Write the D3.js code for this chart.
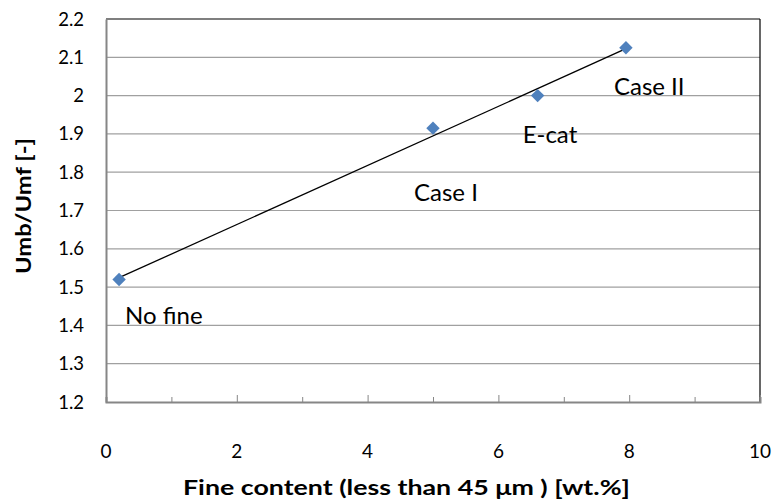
<!DOCTYPE html>
<html><head><meta charset="utf-8">
<script src="https://cdn.jsdelivr.net/npm/d3@7"></script>
<style>body{margin:0;background:#fff}svg{display:block;font-family:Lato,"Open Sans",sans-serif}</style>
</head><body><svg id="c" width="775" height="501"></svg>
<script>
const names = ["No fine","Case I","E-cat","Case II"];
const xVals = [0.2, 5.0, 6.6, 7.95];
const yVals = [1.52, 1.915, 2.0, 2.125];
const xTicks = [0,2,4,6,8,10];
const yTicks = [1.2,1.3,1.4,1.5,1.6,1.7,1.8,1.9,2.0,2.1,2.2];
const yTickLabels = ["1.2","1.3","1.4","1.5","1.6","1.7","1.8","1.9","2","2.1","2.2"];
const labelOffsets = [[6,45],[-19,73],[-15,47],[-12,47]];

const svg = d3.select("#c");
const L=106,R=760,T=19,B=402;
const x = d3.scaleLinear().domain([0,10]).range([L,R]);
const y = d3.scaleLinear().domain([1.2,2.2]).range([B,T]);

// gridlines
svg.append("g").selectAll("line").data(yTicks.slice(1,-1)).join("line")
  .attr("x1",L).attr("x2",R).attr("y1",d=>y(d)).attr("y2",d=>y(d))
  .attr("stroke","#a0a0a0").attr("stroke-width",1.2);
// top and right border
svg.append("line").attr("x1",L).attr("x2",R).attr("y1",T).attr("y2",T).attr("stroke","#000").attr("stroke-width",1.2);
svg.append("line").attr("x1",R).attr("x2",R).attr("y1",T).attr("y2",B).attr("stroke","#000").attr("stroke-width",1.2);

// x axis
const xa = svg.append("g").attr("transform",`translate(0,${B})`)
  .call(d3.axisBottom(x).tickValues(d3.range(0,11,1)).tickSize(-5).tickFormat(""));
xa.select(".domain").attr("stroke","#868686").attr("stroke-width",2);
xa.selectAll(".tick line").attr("stroke","#868686").attr("y2",d=>d%2===0?-7:-5);
svg.append("g").selectAll("text").data(xTicks).join("text")
  .attr("x",d=>x(d)).attr("y",458).attr("text-anchor","middle")
  .attr("font-size",19).attr("fill","#000").text(d=>d);

// y axis
const ya = svg.append("g").attr("transform",`translate(${L},0)`)
  .call(d3.axisLeft(y).tickValues(yTicks).tickSize(0).tickFormat(""));
ya.select(".domain").attr("stroke","#868686").attr("stroke-width",2);
svg.append("g").selectAll("text").data(yTicks).join("text")
  .attr("x",84).attr("y",d=>y(d)+6.5).attr("text-anchor","end")
  .attr("font-size",18.5).attr("fill","#000").text((d,i)=>yTickLabels[i]);

// trendline (least squares)
const mx=d3.mean(xVals), my=d3.mean(yVals);
const slope=d3.sum(xVals.map((v,i)=>(v-mx)*(yVals[i]-my)))/d3.sum(xVals.map(v=>(v-mx)**2));
const icpt=my-slope*mx;
const x0=d3.min(xVals), x1=d3.max(xVals);
svg.append("line").attr("x1",x(x0)).attr("y1",y(icpt+slope*x0))
  .attr("x2",x(x1)).attr("y2",y(icpt+slope*x1)).attr("stroke","#000").attr("stroke-width",1.3);

// markers
svg.append("g").selectAll("path").data(xVals).join("path")
  .attr("d",d3.symbol(d3.symbolDiamond2,115))
  .attr("transform",(d,i)=>`translate(${x(d)},${y(yVals[i])})`)
  .attr("fill","#4F81BD");

// point labels
svg.append("g").selectAll("text").data(names).join("text")
  .attr("x",(d,i)=>x(xVals[i])+labelOffsets[i][0])
  .attr("y",(d,i)=>y(yVals[i])+labelOffsets[i][1])
  .attr("font-size",24).attr("fill","#000").text(d=>d);

// axis titles
svg.append("text").attr("x",183).attr("y",495)
  .attr("font-size",20).attr("font-weight","bold")
  .attr("textLength",447).attr("lengthAdjust","spacingAndGlyphs")
  .text("Fine content (less than 45 μm )  [wt.%]");
svg.append("text").attr("transform","translate(31,274) rotate(-90)")
  .attr("font-size",21).attr("font-weight","bold")
  .attr("textLength",136).attr("lengthAdjust","spacingAndGlyphs")
  .text("Umb/Umf [-]");
</script></body></html>
